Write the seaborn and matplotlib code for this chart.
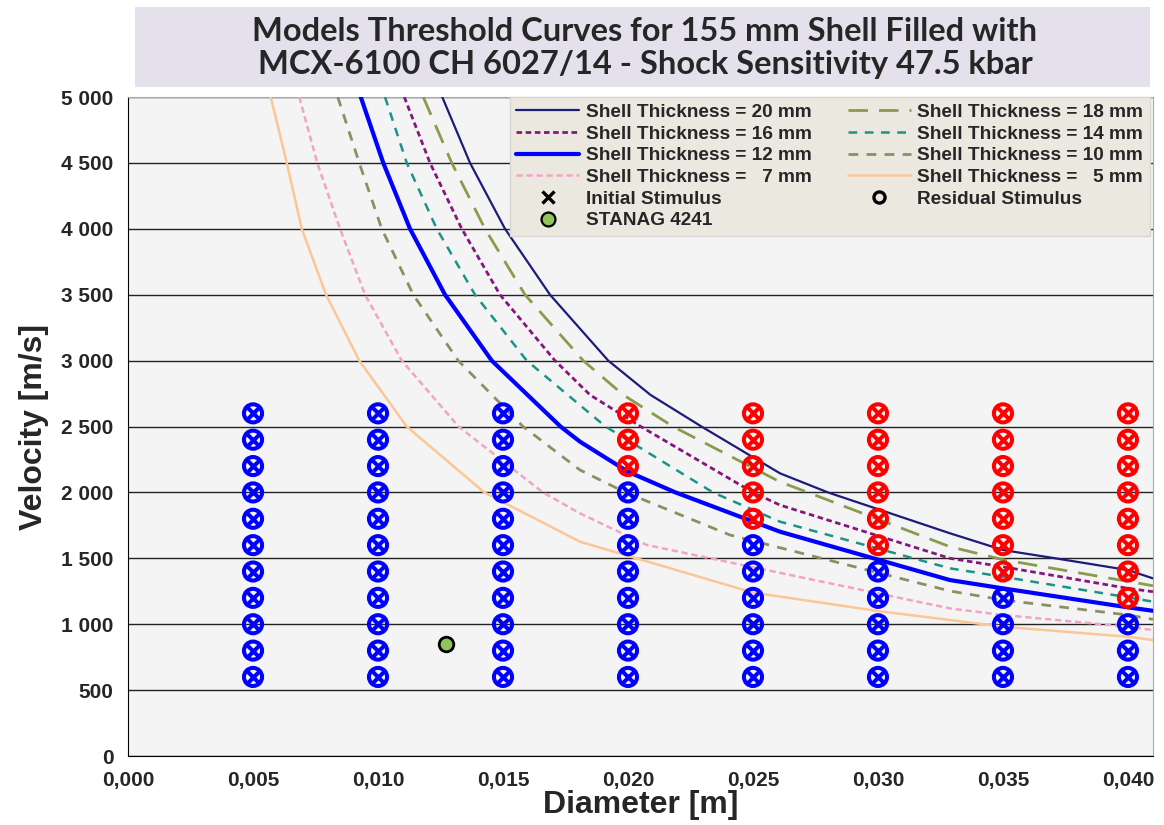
import numpy as np
import pandas as pd
import matplotlib
matplotlib.use("Agg")
import matplotlib.pyplot as plt
from matplotlib.patches import Rectangle
from matplotlib.lines import Line2D
from matplotlib.ticker import MultipleLocator, FuncFormatter
import seaborn as sns

# --- threshold curves (diameter [m], velocity [m/s]) ---
d_20mm = [0.01257, 0.01368, 0.01508, 0.01688, 0.01921, 0.0209, 0.02294, 0.02608, 0.0280, 0.03288, 0.035, 0.0371, 0.040, 0.041]
v_20mm = [5000, 4500, 4000, 3500, 3000, 2740, 2500, 2145, 2000, 1690, 1563, 1500, 1411, 1348]
d_18mm = [0.01181, 0.01295, 0.01428, 0.01588, 0.01821, 0.01981, 0.0218, 0.02608, 0.0272, 0.03288, 0.035, 0.040, 0.041]
v_18mm = [5000, 4500, 4000, 3500, 3000, 2740, 2500, 2080, 2000, 1588, 1490, 1325, 1292]
d_16mm = [0.01105, 0.01208, 0.01335, 0.01488, 0.01708, 0.01848, 0.02051, 0.0250, 0.02608, 0.03288, 0.035, 0.040, 0.041]
v_16mm = [5000, 4500, 4000, 3500, 3000, 2740, 2500, 2000, 1904, 1500, 1436, 1272, 1247]
d_14mm = [0.01028, 0.01115, 0.01235, 0.01388, 0.01595, 0.0191, 0.0234, 0.02608, 0.03288, 0.035, 0.040, 0.041]
v_14mm = [5000, 4500, 4000, 3500, 3000, 2500, 2000, 1778, 1424, 1360, 1204, 1171]
d_12mm = [0.00931, 0.01021, 0.01128, 0.01268, 0.01455, 0.0173, 0.01808, 0.020, 0.0219, 0.02608, 0.03288, 0.035, 0.040, 0.041]
v_12mm = [5000, 4500, 4000, 3500, 3000, 2500, 2385, 2157, 2000, 1702, 1335, 1272, 1128, 1102]
d_10mm = [0.00839, 0.00925, 0.01015, 0.01141, 0.01321, 0.0158, 0.01808, 0.0199, 0.02408, 0.03288, 0.035, 0.040, 0.041]
v_10mm = [5000, 4500, 4000, 3500, 3000, 2500, 2170, 2000, 1677, 1252, 1184, 1070, 1037]
d_7mm = [0.00685, 0.00757, 0.00848, 0.00948, 0.01095, 0.01322, 0.0166, 0.01808, 0.02075, 0.03288, 0.035, 0.040, 0.041]
v_7mm = [5000, 4500, 4000, 3500, 3000, 2500, 2000, 1841, 1601, 1120, 1070, 981, 956]
d_5mm = [0.00571, 0.00635, 0.00695, 0.00792, 0.00925, 0.01115, 0.01425, 0.01808, 0.025, 0.030, 0.03288, 0.035, 0.040, 0.041]
v_5mm = [5000, 4500, 4000, 3500, 3000, 2500, 2000, 1626, 1240, 1100, 1032, 981, 905, 880]

# --- stimulus test points ---
diameters = [0.005, 0.010, 0.015, 0.020, 0.025, 0.030, 0.035, 0.040]
velocities = [600, 800, 1000, 1200, 1400, 1600, 1800, 2000, 2200, 2400, 2600]
# lowest velocity that reacts (red) for each diameter, None = no reaction
first_red = [None, None, None, 2200, 1800, 1600, 1400, 1200]

stanag_d = [0.0127]
stanag_v = [850]

rows = []
for d, fr in zip(diameters, first_red):
    for v in velocities:
        rows.append({"d": d, "v": v, "go": fr is not None and v >= fr})
pts = pd.DataFrame(rows)

curves = [
    ("Shell Thickness = 20 mm", d_20mm, v_20mm, "#1c1c7a", "-", 1.6),
    ("Shell Thickness = 18 mm", d_18mm, v_18mm, "#8b9a4c", (0, (7, 4)), 2.0),
    ("Shell Thickness = 16 mm", d_16mm, v_16mm, "#86167f", (0, (2, 1.3)), 2.0),
    ("Shell Thickness = 14 mm", d_14mm, v_14mm, "#1a9488", (0, (3.5, 3)), 1.8),
    ("Shell Thickness = 12 mm", d_12mm, v_12mm, "#0000ff", "-", 3.0),
    ("Shell Thickness = 10 mm", d_10mm, v_10mm, "#8c9060", (0, (3.5, 3)), 2.0),
    ("Shell Thickness =   7 mm", d_7mm, v_7mm, "#f3a3c8", (0, (2.5, 1.5)), 1.8),
    ("Shell Thickness =   5 mm", d_5mm, v_5mm, "#fbc796", "-", 1.8),
]

sns.set_style("white")
plt.rcParams["font.family"] = ["Liberation Sans", "DejaVu Sans"]

fig = plt.figure(figsize=(11.64, 8.25), dpi=100)
ax = fig.add_axes([0.110, 0.0836, 0.8805, 0.7988])
ax.set_facecolor("#f4f4f4")

handles = {}
for lab, dd, vv, col, ls, lw in curves:
    sns.lineplot(x=dd, y=vv, ax=ax, color=col, linewidth=lw, sort=False, zorder=3)
    ln = ax.get_lines()[-1]
    ln.set_linestyle(ls)
    ln.set_solid_joinstyle("round")
    handles[lab] = Line2D([], [], color=col, linestyle=ls, linewidth=lw)

for go, col in [(False, "#0000ff"), (True, "#ff0000")]:
    sub = pts[pts["go"] == go]
    sns.scatterplot(data=sub, x="d", y="v", ax=ax, marker="o", s=170,
                    facecolor="none", edgecolor=col, linewidth=2.9, zorder=5, legend=False)
    sns.scatterplot(data=sub, x="d", y="v", ax=ax, marker="x", s=95,
                    color=col, linewidth=2.9, zorder=5, legend=False)

sns.scatterplot(x=stanag_d, y=stanag_v, ax=ax, marker="o", s=110, color="#8fc65a",
                edgecolor="black", linewidth=2.0, zorder=6, legend=False)

ax.set_xlim(0, 0.041)
ax.set_ylim(0, 5000)
ax.yaxis.set_major_locator(MultipleLocator(500))
ax.yaxis.set_minor_locator(MultipleLocator(100))
ax.xaxis.set_major_locator(MultipleLocator(0.005))
ax.xaxis.set_minor_locator(MultipleLocator(0.001))
ax.yaxis.set_major_formatter(FuncFormatter(lambda v, p: f"{v:,.0f}".replace(",", " ")))
ax.xaxis.set_major_formatter(FuncFormatter(lambda v, p: f"{v:.3f}".replace(".", ",")))
ax.grid(axis="y", which="major", color="#222222", linewidth=1.0, zorder=1)
ax.set_axisbelow(True)
ax.tick_params(axis="both", which="major", direction="out", length=7, width=1,
               labelsize=15, color="black")
ax.tick_params(axis="both", which="minor", direction="out", length=4, width=1, color="black")
for lbl in ax.get_xticklabels() + ax.get_yticklabels():
    lbl.set_fontweight("bold")
for s in ["left", "bottom"]:
    ax.spines[s].set_color("black")
for s in ["top", "right"]:
    ax.spines[s].set_color("#aaaaaa")

ax.set_xlabel("Diameter [m]", fontsize=23, fontweight="bold", labelpad=0)
ax.set_ylabel("Velocity [m/s]", fontsize=23, fontweight="bold", labelpad=9)

# legend (column-major order to get row-wise layout of the original)
init_h = Line2D([], [], color="black", marker="x", linestyle="none", markersize=8, markeredgewidth=2.4)
resid_h = Line2D([], [], color="black", marker="o", linestyle="none", markersize=8,
                 markerfacecolor="none", markeredgewidth=2.4)
stanag_h = Line2D([], [], marker="o", linestyle="none", markersize=10, markerfacecolor="#8fc65a",
                  markeredgecolor="black", markeredgewidth=1.6)
order = ["Shell Thickness = 20 mm", "Shell Thickness = 16 mm", "Shell Thickness = 12 mm",
         "Shell Thickness =   7 mm", "Initial Stimulus", "STANAG 4241",
         "Shell Thickness = 18 mm", "Shell Thickness = 14 mm", "Shell Thickness = 10 mm",
         "Shell Thickness =   5 mm", "Residual Stimulus"]
handles["Initial Stimulus"] = init_h
handles["Residual Stimulus"] = resid_h
handles["STANAG 4241"] = stanag_h
leg = ax.legend([handles[k] for k in order], order, ncol=2, loc="upper right",
                bbox_to_anchor=(0.997, 1.0), borderaxespad=0.0, frameon=True, fancybox=False,
                facecolor="#ebe8df", edgecolor="#d8d6d0", framealpha=1, borderpad=0.35,
                labelspacing=0.23, handlelength=3.3, handletextpad=0.35, columnspacing=1.9,
                prop={"weight": "bold", "size": 13.7})
leg.set_zorder(10)

# title box
fig.patches.append(Rectangle((135 / 1164, 1 - 87 / 825), 1015 / 1164, 80 / 825,
                             transform=fig.transFigure, facecolor="#e4e1ec", edgecolor="none", zorder=0))
fig.text(645 / 1164, 1 - 48 / 825,
         "Models Threshold Curves for 155 mm Shell Filled with\nMCX-6100 CH 6027/14 - Shock Sensitivity 47.5 kbar",
         ha="center", va="center", fontsize=23.5, fontweight="bold", family=["Lato", "DejaVu Sans"],
         linespacing=1.18)

fig.savefig("out.png", dpi=100)
